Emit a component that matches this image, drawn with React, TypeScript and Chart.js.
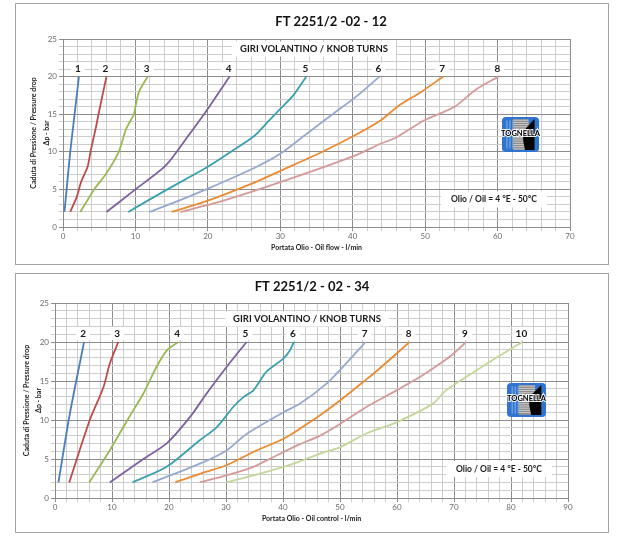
import React, { useEffect, useRef } from 'react';
import { Chart, registerables } from 'chart.js';
Chart.register(...registerables);

type Pt = [number, number];
const FONT = 'Lato, "Open Sans", "Liberation Sans", sans-serif';

// ---------- Chart 1 : FT 2251/2 -02 - 12 ----------
const TOP_TITLE = 'FT 2251/2 -02 - 12';
const TOP_XTITLE = 'Portata Olio - Oil flow - l/min';
const TOP_XMAX = 70;
const T1: Pt[] = [[0.2, 2], [0.5, 5], [1.0, 10], [1.6, 15], [2.2, 20]];
const T2: Pt[] = [[1.0, 2], [1.9, 4], [2.5, 6], [3.4, 8], [3.8, 10], [4.6, 13.5], [4.9, 15], [6.0, 20]];
const T3: Pt[] = [[2.4, 2], [4.3, 5], [5.9, 7], [7.7, 10], [8.7, 13], [9.8, 15], [10.0, 16], [10.5, 18], [11.7, 20]];
const T4: Pt[] = [[6.0, 2], [10, 5], [14.2, 8.2], [17.2, 12], [20.2, 16], [23, 20]];
const T5: Pt[] = [[9.0, 2], [14.4, 5], [20, 8], [23.5, 10.2], [26.4, 12.1], [28.3, 14], [30.1, 15.8], [31.7, 17.4], [33.6, 20]];
const T6: Pt[] = [[11.9, 2], [16, 3.5], [20, 5.1], [26.4, 7.85], [30.1, 9.8], [33.8, 12.5], [37.5, 15.2], [40.3, 17.2], [43.7, 20]];
const T7: Pt[] = [[15, 2], [20, 3.5], [26.4, 5.9], [30.1, 7.5], [35.6, 9.9], [40.3, 12.2], [43.9, 14.2], [46.3, 16.1], [49.5, 18], [52.5, 20]];
const T8: Pt[] = [[16.2, 2], [21.8, 3.4], [30.1, 6.0], [40.3, 9.5], [43.9, 11.1], [45.8, 11.8], [49.9, 14.2], [54.1, 16], [56.9, 18.2], [60.1, 20]];
const TOP_SERIES = [T1, T2, T3, T4, T5, T6, T7, T8];
const TOP_LABELS = ['1', '2', '3', '4', '5', '6', '7', '8'];
const TOP_COLORS = ['#4a7ebb', '#be4b48', '#98b954', '#7d60a0', '#3a9fae', '#93a9cf', '#eb8a30', '#d49a98'];

// ---------- Chart 2 : FT 2251/2 - 02 - 34 ----------
const BOT_TITLE = 'FT 2251/2 - 02 - 34';
const BOT_XTITLE = 'Portata Olio - Oil control - l/min';
const BOT_XMAX = 90;
const B2: Pt[] = [[0.6, 2], [2.6, 10.8], [5.1, 20]];
const B3: Pt[] = [[2.5, 2], [6.1, 10], [8.5, 14.2], [9.6, 17.2], [11.1, 20]];
const B4: Pt[] = [[6.0, 2], [9.6, 6.1], [12.0, 9.1], [13.7, 11.2], [15.5, 13.4], [17.8, 16.8], [19.6, 18.9], [21.6, 20]];
const B5: Pt[] = [[9.6, 2], [15.5, 5], [19.6, 7], [23.7, 10.4], [26.6, 13.4], [30.1, 16.8], [33.6, 20]];
const B6: Pt[] = [[13.6, 2], [19.6, 4], [25.4, 7.4], [28.4, 9.1], [31.3, 11.7], [33, 12.9], [34.8, 13.8], [37.1, 16.2], [40.1, 17.9], [41.2, 18.9], [41.9, 20]];
const B7: Pt[] = [[17.1, 2], [25.4, 4.4], [30.1, 6.1], [33.6, 8.2], [40.1, 11], [43, 12.1], [47.7, 14.7], [50, 16.4], [54.5, 20]];
const B8: Pt[] = [[21.1, 2], [25.4, 3.1], [30.1, 4.2], [34.8, 5.9], [40.1, 7.6], [43, 8.9], [46.5, 10.6], [50, 12.5], [54.1, 14.9], [55.8, 15.9], [59.9, 18.5], [62.2, 20]];
const B9: Pt[] = [[25.4, 2], [30.1, 2.9], [34.8, 4.0], [37.1, 4.8], [40.1, 5.9], [43, 6.9], [46.5, 8.0], [50, 9.5], [54.7, 11.7], [59.9, 13.8], [64, 15.5], [67.5, 17.2], [69.9, 18.5], [72.1, 20]];
const B10: Pt[] = [[30.1, 2], [34.8, 2.9], [40.1, 4.0], [43, 4.7], [46.5, 5.7], [50, 6.5], [54.7, 8.3], [59.9, 9.7], [66.3, 12.1], [68.6, 13.8], [72.1, 15.5], [76.8, 17.7], [82, 20]];
const BOT_SERIES = [B2, B3, B4, B5, B6, B7, B8, B9, B10];
const BOT_LABELS = ['2', '3', '4', '5', '6', '7', '8', '9', '10'];
const BOT_COLORS = ['#4a7ebb', '#be4b48', '#98b954', '#7d60a0', '#3a9fae', '#93a9cf', '#eb8a30', '#d49a98', '#c3d69b'];

const Y_MAX = 25;
const Y_TITLE_1 = 'Caduta di Pressione / Pressure drop';
const Y_TITLE_2 = 'Δp - bar';
const LEGEND_TITLE = 'GIRI VOLANTINO / KNOB TURNS';
const OIL_NOTE = 'Olio / Oil = 4 °E - 50°C';

const MAJ = '#8c8c8c';
const MIN = '#cdcdcd';

interface Layout {
  w: number; h: number;
  plotL: number; plotR: number; plotT: number; plotB: number;
  titleX: number; titleY: number;
  yT1X: number; yT2X: number;
  xTitleY: number;
  legX: number; legY: number;
  oilX: number; oilY: number;
  logoX: number; logoY: number; logoW: number; logoH: number;
}

function roundRect(ctx: CanvasRenderingContext2D, x: number, y: number, w: number, h: number, r: number) {
  ctx.beginPath();
  ctx.moveTo(x + r, y);
  ctx.lineTo(x + w - r, y);
  ctx.quadraticCurveTo(x + w, y, x + w, y + r);
  ctx.lineTo(x + w, y + h - r);
  ctx.quadraticCurveTo(x + w, y + h, x + w - r, y + h);
  ctx.lineTo(x + r, y + h);
  ctx.quadraticCurveTo(x, y + h, x, y + h - r);
  ctx.lineTo(x, y + r);
  ctx.quadraticCurveTo(x, y, x + r, y);
  ctx.closePath();
}

function drawLogo(ctx: CanvasRenderingContext2D, x: number, y: number, w: number, h: number) {
  ctx.save();
  roundRect(ctx, x, y, w, h, 4);
  ctx.fillStyle = '#2f74d0';
  ctx.fill();
  ctx.clip();
  ctx.fillStyle = 'rgba(255,255,255,0.45)';
  for (let i = 0; i < 3; i++) ctx.fillRect(x + w * 0.12 + i * 3, y + h * 0.1, 1, h * 0.8);
  const gx = x + w * 0.3, gw = w * 0.42;
  ctx.fillStyle = '#8e8e8e';
  ctx.fillRect(gx, y + h * 0.06, gw, h * 0.88);
  ctx.fillStyle = '#cfcfcf';
  for (let yy = y + h * 0.08; yy < y + h * 0.92; yy += 2.2) ctx.fillRect(gx, yy, gw, 0.9);
  ctx.fillStyle = '#050505';
  ctx.beginPath();
  ctx.moveTo(x + w * 0.56, y + h * 0.42);
  ctx.lineTo(x + w * 0.88, y + h * 0.06);
  ctx.lineTo(x + w * 0.88, y + h * 0.94);
  ctx.lineTo(x + w * 0.62, y + h * 0.94);
  ctx.quadraticCurveTo(x + w * 0.56, y + h * 0.7, x + w * 0.56, y + h * 0.42);
  ctx.closePath();
  ctx.fill();
  ctx.restore();
  ctx.save();
  ctx.font = `bold 7.5px ${FONT}`;
  ctx.textAlign = 'center';
  ctx.textBaseline = 'middle';
  ctx.lineWidth = 2;
  ctx.strokeStyle = 'rgba(255,255,255,0.9)';
  ctx.strokeText('TOGNELLA', x + w / 2, y + h * 0.47);
  ctx.fillStyle = '#000';
  ctx.fillText('TOGNELLA', x + w / 2, y + h * 0.47);
  ctx.restore();
}

function boxText(ctx: CanvasRenderingContext2D, text: string, cx: number, cy: number, font: string, padX: number, padY: number, fs: number) {
  ctx.font = font;
  const w = ctx.measureText(text).width;
  ctx.fillStyle = '#fff';
  ctx.fillRect(cx - w / 2 - padX, cy - fs / 2 - padY, w + padX * 2, fs + padY * 2);
  ctx.fillStyle = '#1a1a1a';
  ctx.textAlign = 'center';
  ctx.textBaseline = 'middle';
  ctx.fillText(text, cx, cy);
}

function Panel(props: {
  title: string; xTitle: string; xMax: number; series: Pt[][]; labels: string[]; colors: string[]; lay: Layout; top: number; labelUp: number;
}) {
  const ref = useRef<HTMLCanvasElement | null>(null);
  useEffect(() => {
    const { lay } = props;
    const decor = {
      id: 'decor',
      afterDatasetsDraw(chart: any) {
        const ctx: CanvasRenderingContext2D = chart.ctx;
        const xs = chart.scales.x, ys = chart.scales.y;
        ctx.save();
        ctx.font = `bold 13px ${FONT}`;
        ctx.fillStyle = '#111';
        ctx.textAlign = 'center';
        ctx.textBaseline = 'middle';
        ctx.fillText(props.title, lay.titleX, lay.titleY);
        const cy = (chart.chartArea.top + chart.chartArea.bottom) / 2;
        ctx.font = `bold 7px ${FONT}`;
        ctx.fillStyle = '#222';
        ctx.save();
        ctx.translate(lay.yT1X, cy);
        ctx.rotate(-Math.PI / 2);
        ctx.fillText(Y_TITLE_1, 0, 0);
        ctx.restore();
        ctx.save();
        ctx.translate(lay.yT2X, cy);
        ctx.rotate(-Math.PI / 2);
        ctx.fillText(Y_TITLE_2, 0, 0);
        ctx.restore();
        const cx = (chart.chartArea.left + chart.chartArea.right) / 2;
        ctx.fillText(props.xTitle, cx, lay.xTitleY);
        boxText(ctx, LEGEND_TITLE, lay.legX, lay.legY, `bold 9.5px ${FONT}`, 8, 3, 9);
        boxText(ctx, OIL_NOTE, lay.oilX, lay.oilY, `bold 8.5px ${FONT}`, 10, 4, 8);
        props.series.forEach((s, i) => {
          const last = s[s.length - 1];
          const px = xs.getPixelForValue(last[0]) - 1;
          const py = ys.getPixelForValue(last[1]) - props.labelUp;
          boxText(ctx, props.labels[i], px, py, `bold 10px ${FONT}`, 4, 1.5, 10);
        });
        drawLogo(ctx, lay.logoX, lay.logoY, lay.logoW, lay.logoH);
        ctx.restore();
      },
    };
    const chart = new Chart(ref.current as HTMLCanvasElement, {
      type: 'line',
      data: {
        datasets: props.series.map((s, i) => ({
          label: props.labels[i],
          data: s.map((p) => ({ x: p[0], y: p[1] })),
          borderColor: props.colors[i],
          backgroundColor: props.colors[i],
          borderWidth: 1.8,
          pointRadius: 0,
          tension: 0.25,
          fill: false,
        })),
      },
      options: {
        animation: false,
        responsive: false,
        devicePixelRatio: 1,
        layout: { padding: { left: 0, top: lay.plotT, right: lay.w - lay.plotR, bottom: 0 } },
        plugins: { legend: { display: false }, title: { display: false }, tooltip: { enabled: false } },
        scales: {
          x: {
            type: 'linear',
            min: 0,
            max: props.xMax,
            afterFit: (s: any) => { s.height = lay.h - lay.plotB; },
            ticks: {
              stepSize: 2,
              autoSkip: false,
              maxRotation: 0,
              padding: 1,
              font: { family: FONT, size: 8 },
              color: '#6a6a6a',
              callback: (v: any) => (Number(v) % 10 === 0 ? String(v) : ''),
            },
            grid: {
              color: (c: any) => (c.tick && c.tick.value % 10 === 0 ? MAJ : MIN),
              tickLength: 4,
            },
            border: { color: MAJ },
          },
          y: {
            type: 'linear',
            min: 0,
            max: Y_MAX,
            afterFit: (s: any) => { s.width = lay.plotL; },
            ticks: {
              stepSize: 1,
              autoSkip: false,
              padding: 2,
              font: { family: FONT, size: 8 },
              color: '#6a6a6a',
              callback: (v: any) => (Number(v) % 5 === 0 ? String(v) : ''),
            },
            grid: {
              color: (c: any) => (c.tick && c.tick.value % 5 === 0 ? MAJ : MIN),
              tickLength: 4,
            },
            border: { color: MAJ },
          },
        },
      },
      plugins: [decor],
    } as any);
    return () => chart.destroy();
  }, []);
  const { lay } = props;
  return (
    <div style={{ position: 'absolute', left: 15, top: props.top, width: lay.w + 2, height: lay.h + 2, border: '1px solid #a3a3a3', boxSizing: 'border-box', background: '#fff' }}>
      <canvas ref={ref} width={lay.w} height={lay.h} style={{ display: 'block', width: lay.w, height: lay.h }} />
    </div>
  );
}

const TOP_LAY: Layout = {
  w: 592, h: 260,
  plotL: 47, plotR: 554, plotT: 35, plotB: 223,
  titleX: 315, titleY: 18,
  yT1X: 18, yT2X: 30.5,
  xTitleY: 244,
  legX: 298, legY: 45,
  oilX: 478, oilY: 195.5,
  logoX: 486, logoY: 113, logoW: 37, logoH: 35,
};

const BOT_LAY: Layout = {
  w: 592, h: 258,
  plotL: 39, plotR: 552, plotT: 29, plotB: 224,
  titleX: 296, titleY: 12.5,
  yT1X: 10.5, yT2X: 23,
  xTitleY: 244.5,
  legX: 291, legY: 45,
  oilX: 483, oilY: 195,
  logoX: 491, logoY: 109, logoW: 39, logoH: 34,
};

export default function App() {
  return (
    <div style={{ position: 'absolute', left: 0, top: 0, width: 624, height: 550, background: '#fff', overflow: 'hidden' }}>
      <Panel title={TOP_TITLE} xTitle={TOP_XTITLE} xMax={TOP_XMAX} series={TOP_SERIES} labels={TOP_LABELS} colors={TOP_COLORS} lay={TOP_LAY} top={3} labelUp={7.5} />
      <Panel title={BOT_TITLE} xTitle={BOT_XTITLE} xMax={BOT_XMAX} series={BOT_SERIES} labels={BOT_LABELS} colors={BOT_COLORS} lay={BOT_LAY} top={273} labelUp={8.5} />
    </div>
  );
}
